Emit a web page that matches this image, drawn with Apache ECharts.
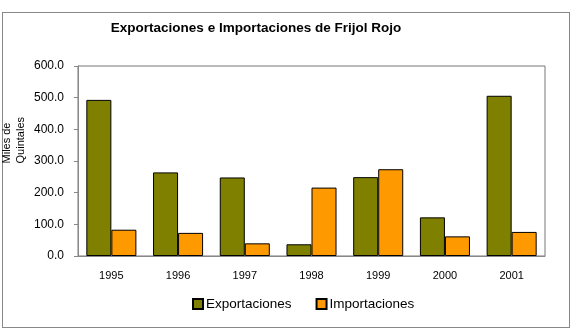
<!DOCTYPE html>
<html>
<head>
<meta charset="utf-8">
<script src="https://cdn.jsdelivr.net/npm/echarts@6/dist/echarts.min.js"></script>
<style>
  html, body { margin: 0; padding: 0; background: #fff; }
  #frame { position: absolute; left: 2px; top: 12px; width: 566px; height: 314px; border: 1px solid #888; }
  #chart { position: absolute; left: 0; top: 0; width: 575px; height: 330px; }
</style>
</head>
<body>
<div id="frame"></div>
<div id="chart"></div>
<script>
  // datos
  var years = ["1995", "1996", "1997", "1998", "1999", "2000", "2001"];
  var exportaciones = [493, 264, 248, 37, 249, 122, 506];
  var importaciones = [83, 73, 40, 216, 274, 62, 76];

  var chart = echarts.init(document.getElementById("chart"));
  var font = "Liberation Sans, Arial, sans-serif";
  var option = {
    animation: false,
    title: {
      text: "Exportaciones e Importaciones de Frijol Rojo",
      left: 251,
      textAlign: "center",
      top: 16,
      textStyle: { fontFamily: font, fontSize: 13.5, fontWeight: "bold", color: "#000" }
    },
    graphic: [{
      type: "text",
      left: 0,
      top: 117,
      rotation: Math.PI / 2,
      style: {
        text: "Miles de\nQuintales",
        font: "11px " + font,
        fill: "#000",
        align: "center",
        lineHeight: 14
      }
    }],
    legend: {
      top: 292,
      left: 187,
      itemWidth: 10,
      itemHeight: 10,
      itemGap: 24,
      icon: "rect",
      textStyle: { fontFamily: font, fontSize: 13.5, color: "#000", padding: [0, 0, 0, -2] },
      data: ["Exportaciones", "Importaciones"]
    },
    grid: { left: 78, right: 30, top: 66, bottom: 74, show: true, borderColor: "#777", borderWidth: 1 },
    xAxis: {
      type: "category",
      data: years,
      axisLine: { lineStyle: { color: "#888" } },
      axisTick: { show: false },
      axisLabel: { fontFamily: font, fontSize: 11, color: "#000", margin: 14 }
    },
    yAxis: {
      type: "value",
      min: 0,
      max: 600,
      interval: 100,
      splitLine: { show: false },
      axisLine: { show: true, lineStyle: { color: "#888" } },
      axisTick: { show: true, length: 4, lineStyle: { color: "#888" } },
      axisLabel: { fontFamily: font, fontSize: 12, color: "#000", margin: 14,
        formatter: function (v) { return v.toFixed(1); } }
    },
    series: [
      {
        name: "Exportaciones",
        type: "bar",
        data: exportaciones,
        barGap: "0%",
        barCategoryGap: "25%",
        itemStyle: { color: "#808000", borderColor: "#000", borderWidth: 1 }
      },
      {
        name: "Importaciones",
        type: "bar",
        data: importaciones,
        itemStyle: { color: "#FF9900", borderColor: "#000", borderWidth: 1 }
      }
    ]
  };
  chart.setOption(option);
</script>
</body>
</html>
